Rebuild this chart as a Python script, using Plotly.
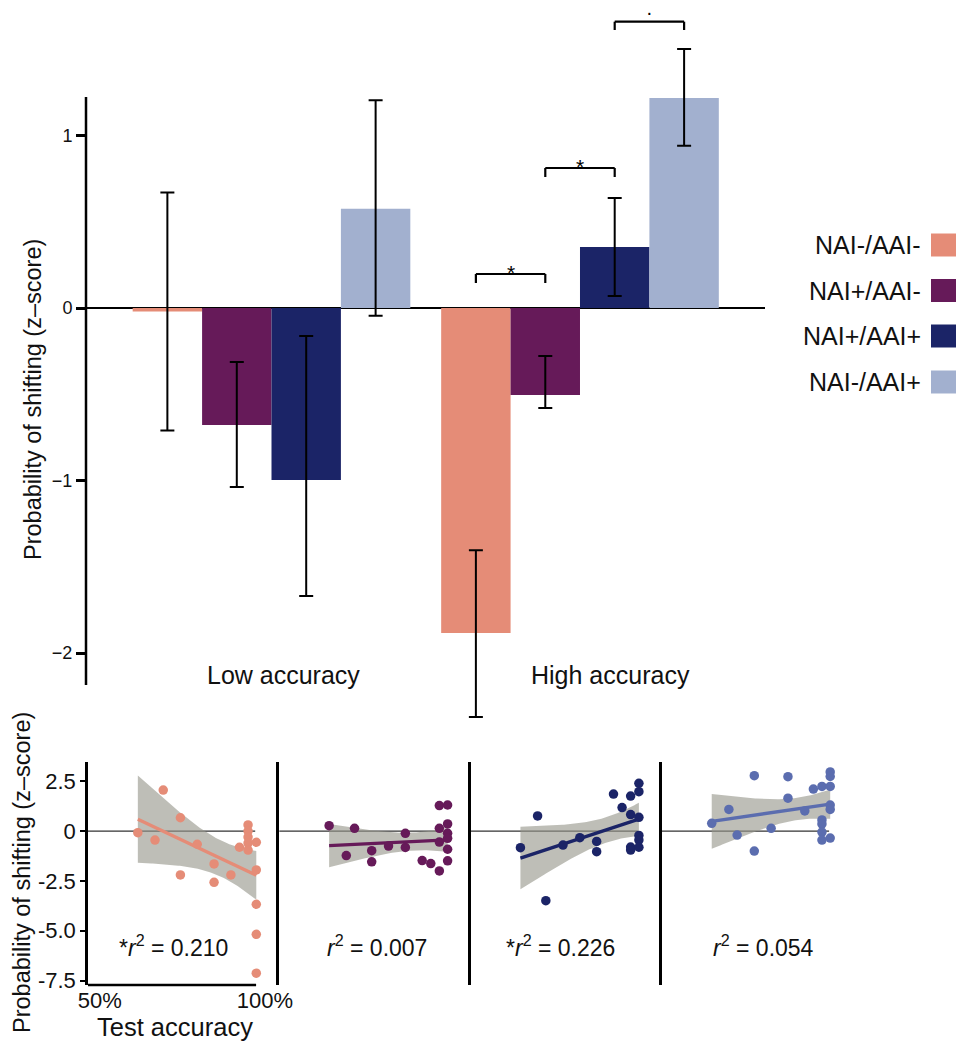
import numpy as np
import plotly.graph_objects as go

W, H = 956, 1043
FONT = "Liberation Sans, Arial, Helvetica, sans-serif"

# ---------------- data ----------------
groups = ["Low accuracy", "High accuracy"]
conditions = ["NAI-/AAI-", "NAI+/AAI-", "NAI+/AAI+", "NAI-/AAI+"]
bar_colors = ["#E58C77", "#661A59", "#1B2467", "#A2B0CF"]
point_colors = ["#E58C77", "#661A59", "#1B2467", "#5B6DAF"]

# mean z-score per condition: [Low accuracy, High accuracy]
z_nn = [-0.02, -1.884]
z_pn = [-0.678, -0.504]
z_pp = [-0.997, 0.354]
z_np = [0.575, 1.217]
bar_means = [z_nn, z_pn, z_pp, z_np]

err_up_nn = [0.69, 0.48]
err_up_pn = [0.365, 0.226]
err_up_pp = [0.835, 0.284]
err_up_np = [0.63, 0.285]
err_lo_nn = [0.69, 0.487]
err_lo_pn = [0.36, 0.076]
err_lo_pp = [0.673, 0.284]
err_lo_np = [0.62, 0.277]
err_up = [err_up_nn, err_up_pn, err_up_pp, err_up_np]
err_lo = [err_lo_nn, err_lo_pn, err_lo_pp, err_lo_np]

# scatter panels: test accuracy (%) vs z-score
acc1 = [61.5, 66.7, 69.2, 74.4, 74.4, 79.5, 84.6, 84.6, 89.7, 92.3,
        94.9, 94.9, 94.9, 94.9, 94.9, 97.4, 97.4, 97.4, 97.4, 97.4]
z1 = [-0.08, -0.45, 2.06, 0.67, -2.20, -0.66, -1.65, -2.57, -2.20, -0.81,
      0.31, 0.0, -0.30, -0.60, -0.95, -0.56, -1.95, -3.67, -5.18, -7.13]

acc2 = [61.5, 66.7, 69.2, 74.4, 74.4, 79.5, 84.6, 84.6, 89.7, 92.3,
        94.9, 94.9, 94.9, 94.9, 97.4, 97.4, 97.4, 97.4, 97.4, 97.4]
z2 = [0.27, -1.23, 0.14, -0.98, -1.54, -0.75, -0.11, -0.82, -1.48, -1.63,
      1.28, 0.14, -0.55, -2.0, 1.31, 0.36, -0.11, -0.36, -0.91, -1.49]

acc3 = [61.5, 66.7, 69.2, 74.4, 79.5, 84.6, 84.6, 89.7, 92.3,
        94.9, 94.9, 94.9, 94.9, 97.4, 97.4, 97.4, 97.4, 97.4, 97.4]
z3 = [-0.83, 0.76, -3.49, -0.70, -0.33, -0.52, -1.03, 1.86, 1.18,
      1.76, 0.83, -0.80, -0.95, 2.40, 1.98, 0.69, -0.22, -0.45, -0.81]

acc4 = [61.5, 66.7, 69.2, 74.4, 74.4, 79.5, 84.6, 84.6, 89.7, 92.3,
        94.9, 94.9, 94.9, 94.9, 94.9, 97.4, 97.4, 97.4, 97.4, 97.4, 97.4]
z4 = [0.39, 1.09, -0.20, 2.78, -1.00, 0.14, 2.73, 1.65, 1.01, 2.11,
      2.24, 0.56, 0.36, -0.05, -0.45, 2.97, 2.74, 2.24, 1.31, 1.09, -0.35]

panel_acc = [acc1, acc2, acc3, acc4]
panel_z = [z1, z2, z3, z4]
r2_labels = ["*<i>r</i><sup>2</sup> = 0.210", "<i>r</i><sup>2</sup> = 0.007",
             "*<i>r</i><sup>2</sup> = 0.226", "<i>r</i><sup>2</sup> = 0.054"]

top_ticks = [-2, -1, 0, 1]
bot_tickvals = [2.5, 0, -2.5, -5.0, -7.5]
bot_ticktext = ["2.5", "0", "-2.5", "-5.0", "-7.5"]
acc_tickvals = [50, 100]
acc_ticktext = ["50%", "100%"]


# ---------------- helpers ----------------
def fx(px):
    return px / W


def fy(py):
    return 1 - py / H


def tval(py):  # top-plot value for a pixel row
    return (308 - py) / 172.5


def t975(df):
    z = 1.959964
    g1 = (z ** 3 + z) / 4
    g2 = (5 * z ** 5 + 16 * z ** 3 + 3 * z) / 96
    g3 = (3 * z ** 7 + 19 * z ** 5 + 17 * z ** 3 - 15 * z) / 384
    return z + g1 / df + g2 / df ** 2 + g3 / df ** 3


fig = go.Figure()

# ---------------- top bar chart ----------------
xg = [0, 1]
for i in range(4):
    fig.add_trace(go.Bar(
        x=xg, y=bar_means[i], name=conditions[i],
        marker=dict(color=bar_colors[i], line=dict(width=0)),
        error_y=dict(type="data", array=err_up[i], arrayminus=err_lo[i],
                     color="black", thickness=2, width=7, symmetric=False),
        xaxis="x", yaxis="y", showlegend=False, cliponaxis=False,
    ))

# ---------------- scatter panels ----------------
for k in range(4):
    ax = str(k + 2)
    xs = np.array(panel_acc[k], dtype=float)
    ys = np.array(panel_z[k], dtype=float)
    n = len(xs)
    b, a = np.polyfit(xs, ys, 1)
    grid = np.linspace(xs.min(), xs.max(), 80)
    fit = a + b * grid
    resid = ys - (a + b * xs)
    s = np.sqrt(np.sum(resid ** 2) / (n - 2))
    sxx = np.sum((xs - xs.mean()) ** 2)
    se = s * np.sqrt(1 / n + (grid - xs.mean()) ** 2 / sxx)
    tc = t975(n - 2)
    up = fit + tc * se
    lo = fit - tc * se
    fig.add_trace(go.Scatter(
        x=np.concatenate([grid, grid[::-1]]), y=np.concatenate([up, lo[::-1]]),
        fill="toself", fillcolor="rgba(150,150,138,0.62)", line=dict(width=0),
        mode="lines", hoverinfo="skip", showlegend=False,
        xaxis="x" + ax, yaxis="y" + ax))
    fig.add_trace(go.Scatter(
        x=grid, y=fit, mode="lines", line=dict(color=point_colors[k], width=3.4),
        showlegend=False, xaxis="x" + ax, yaxis="y" + ax))
    fig.add_trace(go.Scatter(
        x=xs, y=ys, mode="markers",
        marker=dict(color=point_colors[k], size=9.5, line=dict(width=0)),
        showlegend=False, cliponaxis=False, xaxis="x" + ax, yaxis="y" + ax))

# ---------------- layout ----------------
layout = dict(
    width=W, height=H, margin=dict(l=0, r=0, t=0, b=0, autoexpand=False),
    paper_bgcolor="white", plot_bgcolor="rgba(0,0,0,0)",
    font=dict(family=FONT, color="#111111"),
    barmode="group", bargap=0.1, bargroupgap=0,
    showlegend=False,
)

layout["xaxis"] = dict(
    domain=[fx(86), fx(765)], range=[-0.6013, 1.5997], automargin=False,
    showticklabels=False, ticks="", showgrid=False, zeroline=False,
    showline=False, anchor="y")
layout["yaxis"] = dict(
    domain=[fy(740), 1], range=[tval(740), tval(0)], automargin=False,
    tickvals=top_ticks, ticks="outside", ticklen=9, tickwidth=2.5,
    tickcolor="black", tickfont=dict(size=18), showgrid=False,
    zeroline=True, zerolinecolor="black", zerolinewidth=2,
    showline=False, anchor="x")

ppu = 3.3  # pixels per % accuracy
for k in range(4):
    ax = str(k + 2)
    left = 88 + 191.3 * k
    right = left + (100.3 - 46.4) * ppu
    layout["xaxis" + ax] = dict(
        domain=[fx(left), fx(right)], range=[46.4, 100.3], automargin=False,
        showgrid=False, zeroline=False, showline=False, anchor="y" + ax,
        tickvals=acc_tickvals if k == 0 else [],
        ticktext=acc_ticktext if k == 0 else [],
        showticklabels=(k == 0), ticks="", tickfont=dict(size=22))
    layout["yaxis" + ax] = dict(
        domain=[fy(985), fy(762)], range=[(831.1 - 985) / 19.93, (831.1 - 762) / 19.93],
        automargin=False,
        showgrid=False, zeroline=False, showline=True, linecolor="black",
        linewidth=2.5, anchor="x" + ax,
        tickvals=bot_tickvals if k == 0 else [],
        ticktext=bot_ticktext if k == 0 else [],
        showticklabels=(k == 0), ticks="outside" if k == 0 else "",
        ticklen=5, tickwidth=2, tickcolor="black", tickfont=dict(size=22))

shapes = []
annotations = []

# top y axis line
shapes.append(dict(type="line", xref="x domain", yref="y", x0=0, x1=0,
                   y0=tval(685), y1=tval(97), line=dict(color="black", width=2.5)))

# significance brackets (between bar centres of the high-accuracy group)
bw = 0.9 / 4
centres = [1 + (j - 1.5) * bw for j in range(4)]
brackets = [(0, 1, 274, 283, 272, "*", 21), (1, 2, 168, 177, 166, "*", 21),
            (2, 3, 21.7, 30, 12, "\u00b7", 20)]
for j0, j1, ytop, yfoot, ylab, lab, fs in brackets:
    xa, xb = centres[j0], centres[j1]
    for (x0, y0, x1, y1) in [(xa, yfoot, xa, ytop), (xa, ytop, xb, ytop), (xb, ytop, xb, yfoot)]:
        shapes.append(dict(type="line", xref="x", yref="y", x0=x0, x1=x1,
                           y0=tval(y0), y1=tval(y1), line=dict(color="black", width=2.2)))
    annotations.append(dict(xref="x", yref="y", x=(xa + xb) / 2, y=tval(ylab),
                            text=lab, showarrow=False, font=dict(size=fs, color="black"),
                            xanchor="center", yanchor="middle"))

# group labels
annotations.append(dict(xref="paper", yref="paper", x=fx(283), y=fy(675), text=groups[0],
                        showarrow=False, font=dict(size=25), xanchor="center", yanchor="middle"))
annotations.append(dict(xref="paper", yref="paper", x=fx(610), y=fy(675), text=groups[1],
                        showarrow=False, font=dict(size=25), xanchor="center", yanchor="middle"))

# legend (text then swatch on the right)
leg_y = [245, 290.5, 336, 382]
for i in range(4):
    annotations.append(dict(xref="paper", yref="paper", x=fx(923), y=fy(leg_y[i]),
                            text=conditions[i], showarrow=False, font=dict(size=25),
                            xanchor="right", yanchor="middle"))
    shapes.append(dict(type="rect", xref="paper", yref="paper",
                       x0=fx(931), x1=1.0, y0=fy(leg_y[i] + 11.5), y1=fy(leg_y[i] - 11.5),
                       fillcolor=bar_colors[i], line=dict(width=0)))

# axis titles
annotations.append(dict(xref="paper", yref="paper", x=fx(33), y=fy(400),
                        text="Probability of shifting (z\u2013score)", textangle=-90,
                        showarrow=False, font=dict(size=23.5), xanchor="center", yanchor="middle"))
annotations.append(dict(xref="paper", yref="paper", x=fx(22), y=fy(873),
                        text="Probability of shifting (z\u2013score)", textangle=-90,
                        showarrow=False, font=dict(size=23.5), xanchor="center", yanchor="middle"))
annotations.append(dict(xref="paper", yref="paper", x=fx(175), y=fy(1027),
                        text="Test accuracy", showarrow=False, font=dict(size=25.5),
                        xanchor="center", yanchor="middle"))

# bottom panels: zero lines, x axis line, r^2 labels
r2_pos = [0.478, 0.55, 0.506, 0.573]
for k in range(4):
    ax = str(k + 2)
    shapes.append(dict(type="line", xref="x" + ax + " domain", yref="y" + ax,
                       x0=0, x1=0.94, y0=0, y1=0, layer="below",
                       line=dict(color="#333333", width=1.3)))
    annotations.append(dict(xref="x" + ax + " domain", yref="paper", x=r2_pos[k], y=fy(946),
                            text=r2_labels[k], showarrow=False, font=dict(size=23),
                            xanchor="center", yanchor="middle"))
shapes.append(dict(type="line", xref="x2 domain", yref="y2 domain", x0=0, x1=0.945,
                   y0=0, y1=0, line=dict(color="black", width=2.5)))

layout["shapes"] = shapes
layout["annotations"] = annotations
fig.update_layout(**layout)
fig.write_html(
    "out.html",
    config={"displayModeBar": False},
    post_script="document.body.style.margin='0';document.body.style.padding='0';"
                "document.body.style.overflow='hidden';",
)
